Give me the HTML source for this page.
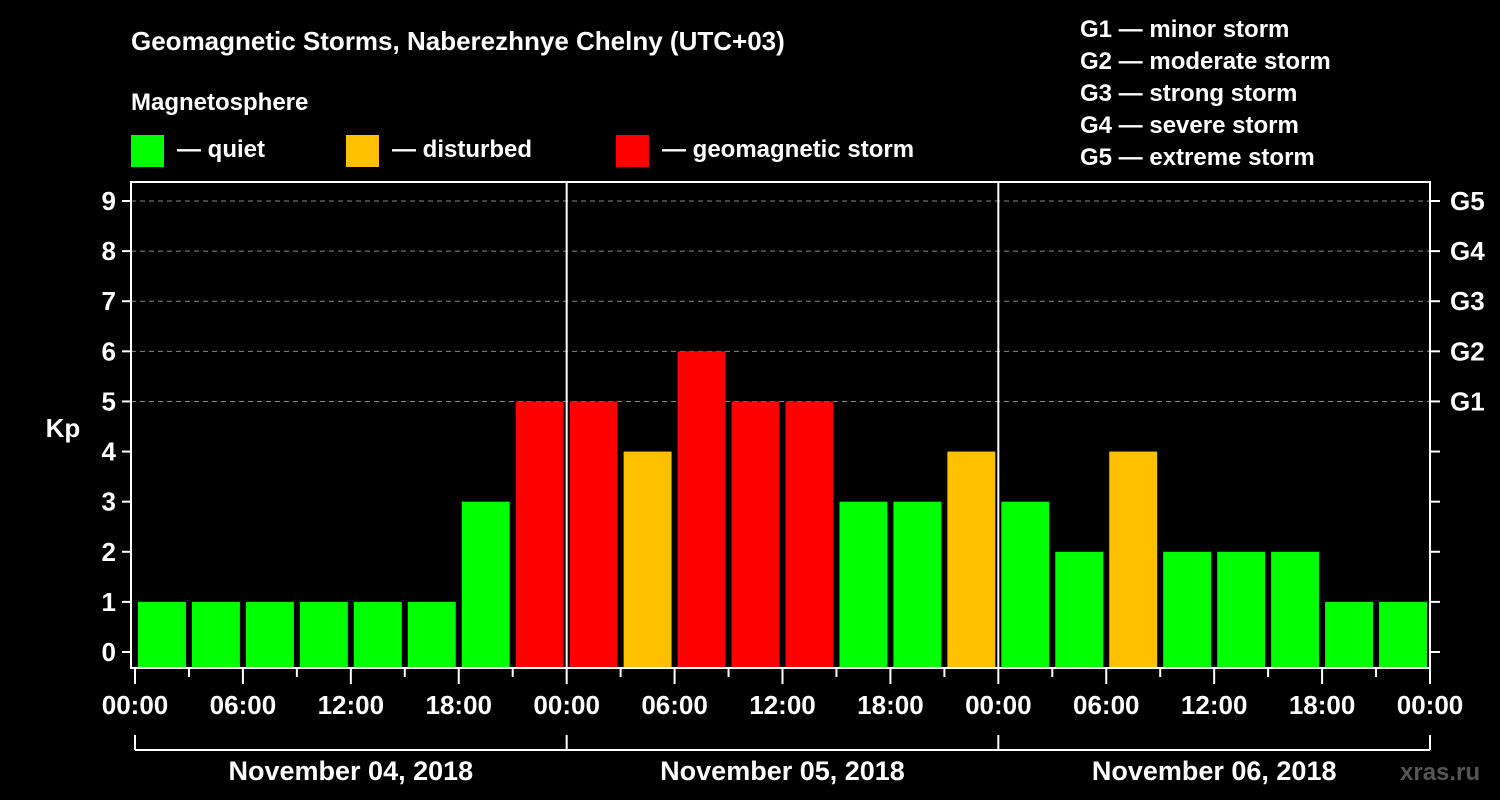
<!DOCTYPE html>
<html><head><meta charset="utf-8"><style>
body{margin:0;background:#000;width:1500px;height:800px;overflow:hidden}
svg{display:block;font-family:"Liberation Sans",sans-serif;font-weight:bold}
</style></head><body>
<svg id="c" width="1500" height="800">
<rect width="1500" height="800" fill="#000"/>
<text x="131" y="50" fill="#fff" font-size="26">Geomagnetic Storms, Naberezhnye Chelny (UTC+03)</text>
<text x="131" y="110" fill="#fff" font-size="24">Magnetosphere</text>
<g><rect x="131" y="135" width="33" height="32" fill="#00ff00"/><text x="177" y="157" fill="#fff" font-size="24">— quiet</text></g>
<g><rect x="346" y="135" width="33" height="32" fill="#ffc000"/><text x="392" y="157" fill="#fff" font-size="24">— disturbed</text></g>
<g><rect x="616" y="135" width="33" height="32" fill="#ff0000"/><text x="662" y="157" fill="#fff" font-size="24">— geomagnetic storm</text></g>
<g fill="#fff" font-size="24">
<text x="1080" y="37">G1 — minor storm</text><text x="1080" y="69">G2 — moderate storm</text><text x="1080" y="101">G3 — strong storm</text><text x="1080" y="133">G4 — severe storm</text><text x="1080" y="165">G5 — extreme storm</text></g>
<text x="63" y="437" fill="#fff" font-size="26" text-anchor="middle">Kp</text>
<text x="1400" y="780" fill="#555" font-size="24">xras.ru</text>
<g id="plot"></g>
</svg>
<script>
const kpValues=[1,1,1,1,1,1,3,5,5,4,6,5,5,3,3,4,3,2,4,2,2,2,1,1];
const dayLabels=["November 04, 2018","November 05, 2018","November 06, 2018"];
const timeLabels=["00:00","06:00","12:00","18:00"];
const gLabels=["G1","G2","G3","G4","G5"];
const NS="http://www.w3.org/2000/svg";
const g=document.getElementById('plot');
const L=131,R=1430,T=182,B=668;
const x=h=>135+h*(1295/72);
const y=v=>652-v*50.11;
function el(t,a,p){const e=document.createElementNS(NS,t);for(const k in a)e.setAttribute(k,a[k]);(p||g).appendChild(e);return e;}
for(let v=5;v<=9;v++){const l=el('line',{x1:L,x2:R,y1:y(v),y2:y(v),stroke:'#888','stroke-dasharray':'5,4','stroke-width':1});

}
kpValues.forEach((v,i)=>{const c=v>=5?'#ff0000':v>=4?'#ffc000':'#00ff00';
const r=el('rect',{x:x(3*i)+3,y:y(v),width:x(3*i+3)-x(3*i)-6,height:B-y(v),fill:c});

});
for(let d=1;d<3;d++){const l=el('line',{x1:x(24*d),x2:x(24*d),y1:T,y2:B,stroke:'#fff','stroke-width':2});

}
const f=el('rect',{x:L,y:T,width:R-L,height:B-T,fill:'none',stroke:'#fff','stroke-width':2});


for(let v=0;v<=9;v++){
el('line',{x1:122,x2:L,y1:y(v),y2:y(v),stroke:'#fff','stroke-width':2});
el('line',{x1:R,x2:1440,y1:y(v),y2:y(v),stroke:'#fff','stroke-width':2});
const t=el('text',{x:116,y:y(v)+9,fill:'#fff','font-size':26,'text-anchor':'end'});t.textContent=v;

}
gLabels.forEach((s,i)=>{const t=el('text',{x:1450,y:y(i+5)+9,fill:'#fff','font-size':26});t.textContent=s;

});
for(let h=0;h<=72;h+=3){const long=h%6===0;
el('line',{x1:x(h),x2:x(h),y1:B,y2:B+(long?16:9),stroke:'#fff','stroke-width':2});
if(long){const t=el('text',{x:x(h),y:714,fill:'#fff','font-size':26,'text-anchor':'middle'});t.textContent=timeLabels[(h/6)%4];

}}
el('line',{x1:x(0),x2:x(72),y1:750,y2:750,stroke:'#fff','stroke-width':2});
for(let d=0;d<=3;d++)el('line',{x1:x(24*d),x2:x(24*d),y1:735,y2:750,stroke:'#fff','stroke-width':2});
dayLabels.forEach((s,d)=>{const t=el('text',{x:x(24*d+12),y:780,fill:'#fff','font-size':27,'text-anchor':'middle'});t.textContent=s;

});
</script>
</body></html>
